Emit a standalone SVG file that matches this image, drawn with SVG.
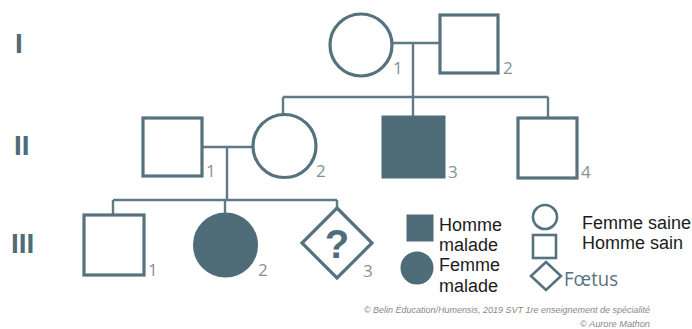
<svg xmlns="http://www.w3.org/2000/svg" width="692" height="329" viewBox="0 0 692 329">
<style>
.sh{fill:#ffffff;stroke:#56727e;stroke-width:3.2}
.fi{fill:#4f6c79;stroke:#4f6c79;stroke-width:3}
.ln{fill:none;stroke:#5e7a86;stroke-width:2.4}
.num{font-family:"Open Sans","Liberation Sans",sans-serif;font-size:17px;fill:#7f929b}
.gen{font-family:"Liberation Sans",sans-serif;font-weight:bold;font-size:28px;fill:#4f6c79}
.leg{font-family:"Liberation Sans",Arial,sans-serif;font-size:18px;fill:#1c1c1c}
.cp{font-family:"Liberation Sans",sans-serif;font-style:italic;font-size:8.5px;fill:#888888}
.lsh{fill:#ffffff;stroke:#56727e;stroke-width:2.6}
</style>
<rect width="692" height="329" fill="#ffffff"/>
<g id="generations">
<text class="gen" x="15" y="53">I</text>
<text class="gen" x="14" y="155">II</text>
<text class="gen" x="11" y="253">III</text>
</g>
<g id="connectors">
<line class="ln" x1="392" y1="43" x2="440" y2="43"/>
<line class="ln" x1="413" y1="43" x2="413" y2="97"/>
<line class="ln" x1="283" y1="97" x2="548" y2="97"/>
<line class="ln" x1="283" y1="97" x2="283" y2="115"/>
<line class="ln" x1="413" y1="97" x2="413" y2="117"/>
<line class="ln" x1="548" y1="97" x2="548" y2="118"/>
<line class="ln" x1="202" y1="147" x2="252" y2="147"/>
<line class="ln" x1="227" y1="147" x2="227" y2="200"/>
<line class="ln" x1="113" y1="200" x2="337" y2="200"/>
<line class="ln" x1="113" y1="200" x2="113" y2="215"/>
<line class="ln" x1="225" y1="200" x2="225" y2="213"/>
<line class="ln" x1="337" y1="200" x2="337" y2="208"/>
</g>
<g id="I-1">
<circle class="sh" cx="361" cy="45" r="31"/>
<text class="num" x="393" y="74">1</text>
</g>
<g id="I-2">
<rect class="sh" x="440" y="15" width="58" height="58"/>
<text class="num" x="503" y="74">2</text>
</g>
<g id="II-1">
<rect class="sh" x="143" y="118" width="59" height="58"/>
<text class="num" x="206" y="177">1</text>
</g>
<g id="II-2">
<circle class="sh" cx="284.5" cy="146" r="31.5"/>
<text class="num" x="316" y="177">2</text>
</g>
<g id="II-3">
<rect class="fi" x="383" y="117" width="61" height="60"/>
<text class="num" x="448" y="178">3</text>
</g>
<g id="II-4">
<rect class="sh" x="518" y="118" width="59" height="60"/>
<text class="num" x="581" y="178">4</text>
</g>
<g id="III-1">
<rect class="sh" x="84" y="215" width="60" height="60"/>
<text class="num" x="148" y="276">1</text>
</g>
<g id="III-2">
<circle class="fi" cx="225.5" cy="245" r="31"/>
<text class="num" x="258" y="276">2</text>
</g>
<g id="III-3">
<polygon class="sh" points="337,208 372,243 337,278 302,243"/>
<text x="337" y="258" text-anchor="middle" font-family="Liberation Sans,sans-serif" font-weight="bold" font-size="40" fill="#4f6c79">?</text>
<text class="num" x="363" y="277">3</text>
</g>
<g id="legend">
<rect class="fi" x="408" y="216" width="24" height="24"/>
<text class="leg" x="439" y="231">Homme</text>
<text class="leg" x="439" y="251">malade</text>
<circle class="fi" cx="417" cy="268" r="15"/>
<text class="leg" x="439" y="271">Femme</text>
<text class="leg" x="439" y="292">malade</text>
<circle class="lsh" cx="545" cy="217" r="12"/>
<rect class="lsh" x="533" y="235" width="23" height="23"/>
<polygon class="lsh" points="546,262 561,276 546,290 531,276"/>
<text class="leg" x="582" y="229">Femme saine</text>
<text class="leg" x="582" y="249">Homme sain</text>
<text x="564" y="286" font-family="Open Sans,Liberation Sans,sans-serif" font-size="20" fill="#56727e" textLength="54" lengthAdjust="spacingAndGlyphs">Fœtus</text>
</g>
<g id="credits">
<text class="cp" x="364" y="313" textLength="286" lengthAdjust="spacingAndGlyphs">© Belin Éducation/Humensis, 2019 SVT 1re enseignement de spécialité</text>
<text class="cp" x="580" y="327" textLength="70" lengthAdjust="spacingAndGlyphs">© Aurore Mathon</text>
</g>
</svg>
